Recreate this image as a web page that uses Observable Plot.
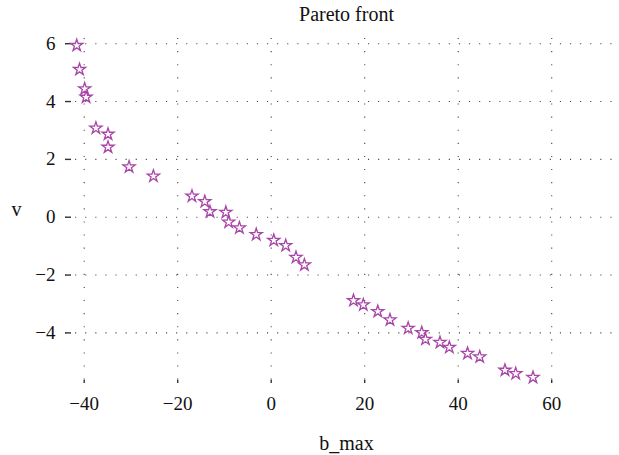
<!DOCTYPE html>
<html>
<head>
<meta charset="utf-8">
<script src="https://cdn.jsdelivr.net/npm/d3@7"></script>
<script src="https://cdn.jsdelivr.net/npm/@observablehq/plot@0.6"></script>
<style>
  html, body { margin: 0; padding: 0; background: #fff; }
  #chart svg { display: block; }
</style>
</head>
<body>
<div id="chart"></div>
<script>
// Pareto front: b_max against v
const bMax = [
  -41.6, -41.0, -39.9, -39.6, -37.5, -34.9, -34.9, -30.4, -25.2,
  -16.95, -14.2, -13.1, -9.7, -9.1, -6.8, -3.2, 0.55, 3.1, 5.3, 7.1,
  17.6, 19.7, 22.8, 25.4, 29.3, 32.2, 33.0, 36.1, 38.1, 42.0, 44.6,
  50.0, 52.3, 56.0
];
const vValues = [
  5.94, 5.11, 4.44, 4.15, 3.08, 2.87, 2.42, 1.74, 1.42,
  0.73, 0.54, 0.19, 0.17, -0.17, -0.37, -0.60, -0.80, -0.98, -1.39, -1.65,
  -2.88, -3.03, -3.26, -3.55, -3.84, -3.99, -4.22, -4.33, -4.50, -4.71, -4.83,
  -5.29, -5.41, -5.54
];
const xTicks = [-40, -20, 0, 20, 40, 60];
const yTicks = [-4, -2, 0, 2, 4, 6];
const titleText = "Pareto front";
const xLabel = "b_max";
const yLabel = "v";

const serif = "Liberation Serif";
const points = bMax.map((b, i) => ({b, v: vValues[i]}));

// shared text styling for the title and axis names
const label = {fontSize: 20, fontFamily: serif, lineAnchor: "middle", textAnchor: "middle"};

const chart = Plot.plot({
  width: 619,
  height: 455,
  marginLeft: 65,
  marginRight: 0,
  marginTop: 38,
  marginBottom: 72,
  style: {fontFamily: serif, fontSize: "19px", color: "#111", background: "#fff"},
  x: {domain: [-44, 74.5]},
  y: {domain: [-5.75, 6.18]},
  marks: [
    Plot.gridX(xTicks, {stroke: "#444", strokeOpacity: 1, strokeWidth: 1.1, strokeDasharray: "1.1,12"}),
    Plot.gridY(yTicks, {stroke: "#444", strokeOpacity: 1, strokeWidth: 1.1, strokeDasharray: "1.1,9"}),
    Plot.axisX(xTicks, {tickSize: -3, tickPadding: 16, line: true, stroke: "#333", strokeWidth: 1.4, fontSize: 19, fontFamily: serif, label: null}),
    Plot.axisY(yTicks, {tickSize: -6, tickPadding: 16, line: true, stroke: "#333", strokeWidth: 1.4, fontSize: 19, fontFamily: serif, label: null}),
    Plot.dot(points, {x: "b", y: "v", symbol: "star", r: 3.8, stroke: "#a845a8", strokeWidth: 1.3, fill: "#fff"}),
    Plot.text([titleText], {...label, frameAnchor: "top", dx: 4, dy: -23.7}),
    Plot.text([xLabel], {...label, frameAnchor: "bottom", dx: 4, dy: 59.6}),
    Plot.text([yLabel], {...label, frameAnchor: "left", dx: -49, dy: -1})
  ]
});
document.getElementById("chart").appendChild(chart);
</script>
</body>
</html>
